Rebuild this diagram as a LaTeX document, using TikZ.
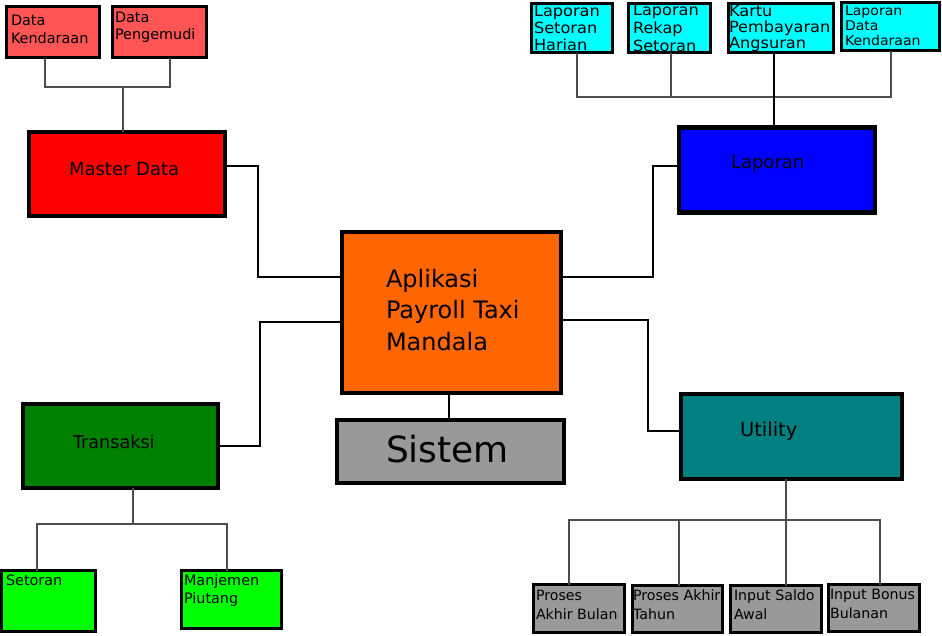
\documentclass[tikz,border=0pt]{standalone}
\usepackage{fontspec}
\setmainfont{DejaVu Sans}
\newfontfamily\widefont[FakeStretch=1.05]{DejaVu Sans}
\newcommand{\boxtext}[3]{\vtop{\hsize=300pt\fontsize{#1}{#2}\selectfont\raggedright\noindent #3\par}}
\definecolor{cRedL}{HTML}{FF5555}
\definecolor{cRed}{HTML}{FF0000}
\definecolor{cOrange}{HTML}{FF6600}
\definecolor{cBlue}{HTML}{0000FF}
\definecolor{cCyan}{HTML}{00FFFF}
\definecolor{cGreen}{HTML}{008000}
\definecolor{cGreenL}{HTML}{00FF00}
\definecolor{cTeal}{HTML}{008080}
\definecolor{cGray}{HTML}{999999}
\tikzset{
  smallbox/.style={draw=black, line width=3pt, rectangle, inner sep=0pt, outer sep=0pt},
  bigbox/.style={draw=black, line width=4.5pt, rectangle, inner sep=0pt, outer sep=0pt},
  txt/.style={anchor=base west, inner sep=0pt, outer sep=0pt, text=black},
  tree/.style={draw=black!70, line width=1.1pt},
  conn/.style={draw=black, line width=1.3pt},
}
\begin{document}
\begin{tikzpicture}[x=1pt,y=-1pt]
\useasboundingbox (0,0) rectangle (942,635);
\fill[white] (0,0) rectangle (942,635);

% top-left
\node[smallbox, fill=cRedL, minimum width=93pt, minimum height=51pt] (dk) at (53,32) {};
\node[smallbox, fill=cRedL, minimum width=94pt, minimum height=51pt] (dp) at (159.5,32) {};
\node[txt] (dkt) at (11,25) {\boxtext{14.4}{18}{Data\\Kendaraan}};
\node[txt] (dpt) at (115,22) {\boxtext{14.4}{17}{Data\\Pengemudi}};

\node[bigbox, fill=cRed, minimum width=196pt, minimum height=84pt] (md) at (127,174) {};
\node[txt] (mdt) at (69,175) {\fontsize{18}{21}\selectfont Master Data};

% centre
\node[bigbox, fill=cOrange, minimum width=219pt, minimum height=161pt] (app) at (451.5,312.5) {};
\node[txt] (appt) at (386,287) {\boxtext{24}{31.5}{Aplikasi\\Payroll Taxi\\Mandala}};
\node[bigbox, fill=cGray, minimum width=227pt, minimum height=63pt] (sis) at (450.5,451.5) {};
\node[txt] (sist) at (386,462) {\fontsize{36}{40}\selectfont Sistem};

% laporan
\node[bigbox, fill=cBlue, minimum width=196pt, minimum height=85pt] (lap) at (777,170) {};
\node[txt] (lapt) at (731,168) {\fontsize{18}{21}\selectfont Laporan};
\node[smallbox, fill=cCyan, minimum width=81pt, minimum height=49pt] (r1) at (572,28) {};
\node[smallbox, fill=cCyan, minimum width=82pt, minimum height=49pt] (r2) at (669.5,28) {};
\node[smallbox, fill=cCyan, minimum width=105pt, minimum height=49pt] (r3) at (781,28) {};
\node[smallbox, fill=cCyan, minimum width=98pt, minimum height=48pt] (r4) at (890.5,26.5) {};
\node[txt] (r1t) at (534,16) {\widefont\boxtext{15.4}{17}{Laporan\\Setoran\\Harian}};
\node[txt] (r2t) at (633,15) {\widefont\boxtext{15.4}{18}{Laporan\\Rekap\\Setoran}};
\node[txt] (r3t) at (729,16.5) {\widefont\boxtext{15.4}{16}{Kartu\\Pembayaran\\Angsuran}};
\node[txt] (r4t) at (845,15.5) {\widefont\boxtext{13.4}{15}{Laporan\\Data\\Kendaraan}};

% transaksi
\node[bigbox, fill=cGreen, minimum width=195pt, minimum height=84pt] (trn) at (120.5,446) {};
\node[txt] (trnt) at (73,448) {\fontsize{17.6}{21}\selectfont Transaksi};
\node[smallbox, fill=cGreenL, minimum width=94pt, minimum height=61pt] (st) at (48.5,601) {};
\node[smallbox, fill=cGreenL, minimum width=100pt, minimum height=58pt] (mp) at (231.5,599.5) {};
\node[txt] (stt) at (6,585.5) {\boxtext{14.4}{18}{Setoran}};
\node[txt] (mpt) at (184,585.5) {\boxtext{14.4}{18}{Manjemen\\Piutang}};

% utility
\node[bigbox, fill=cTeal, minimum width=221pt, minimum height=85pt] (utl) at (791.5,436.5) {};
\node[txt] (utlt) at (740,436) {\fontsize{19.5}{23}\selectfont Utility};
\node[smallbox, fill=cGray, minimum width=91pt, minimum height=48pt] (b1) at (579,608.5) {};
\node[smallbox, fill=cGray, minimum width=90pt, minimum height=47pt] (b2) at (677.5,609) {};
\node[smallbox, fill=cGray, minimum width=91pt, minimum height=47pt] (b3) at (776,609) {};
\node[smallbox, fill=cGray, minimum width=91pt, minimum height=47pt] (b4) at (874,608) {};
\node[txt] (b1t) at (536,600) {\boxtext{14.2}{19}{Proses\\Akhir Bulan}};
\node[txt] (b2t) at (633,600) {\boxtext{14.2}{19}{Proses Akhir\\Tahun}};
\node[txt] (b3t) at (734,600) {\boxtext{14.2}{19}{Input Saldo\\Awal}};
\node[txt] (b4t) at (830,599) {\boxtext{14.2}{19}{Input Bonus\\Bulanan}};

% junction coordinates
\coordinate (mdj) at (123,87);
\coordinate (lj) at (774,97);
\coordinate (tj) at (133,524);
\coordinate (uj) at (786,520);
\coordinate (k1) at (258,277);
\coordinate (k2) at (260,322);
\coordinate (k3) at (653,277);
\coordinate (k4) at (648,320);

% trees
\draw[tree] ([xshift=-8pt]dk.south) |- (mdj) -| ([xshift=10.5pt]dp.south);
\draw[tree] (mdj) -- (mdj |- md.north);

\draw[tree] ([xshift=5pt]r1.south) |- ([xshift=0.5pt]r4.south |- lj) -- ([xshift=0.5pt]r4.south);
\draw[tree] ([xshift=1.5pt]r2.south) -- ([xshift=1.5pt]r2.south |- lj);
\draw[conn, line width=1.1pt] ([xshift=-7pt]r3.south) -- ([xshift=-7pt]r3.south |- lap.north);

\draw[tree] (tj |- trn.south) -- (tj);
\draw[tree] ([xshift=-11.5pt]st.north) |- (tj) -| ([xshift=-4.5pt]mp.north);

\draw[tree] (uj |- utl.south) -- (uj |- b3.north);
\draw[tree] ([xshift=-10pt]b1.north) |- ([xshift=6pt]b4.north |- uj) -- ([xshift=6pt]b4.north);
\draw[tree] ([xshift=1.5pt]b2.north) -- ([xshift=1.5pt]b2.north |- uj);

% main connectors
\draw[conn] ([yshift=8pt]md.east) -| (k1) -- (k1 -| app.west);
\draw[conn] (trn.east) -| (k2) -- (k2 -| app.west);
\draw[conn] (k3 -| app.east) -- (k3) |- ([yshift=4pt]lap.west);
\draw[conn] (k4 -| app.east) -- (k4) |- ([yshift=5.5pt]utl.west);
\draw[conn] ([xshift=-2.5pt]app.south) -- ([xshift=-2.5pt]app.south |- sis.north);
\end{tikzpicture}
\end{document}
